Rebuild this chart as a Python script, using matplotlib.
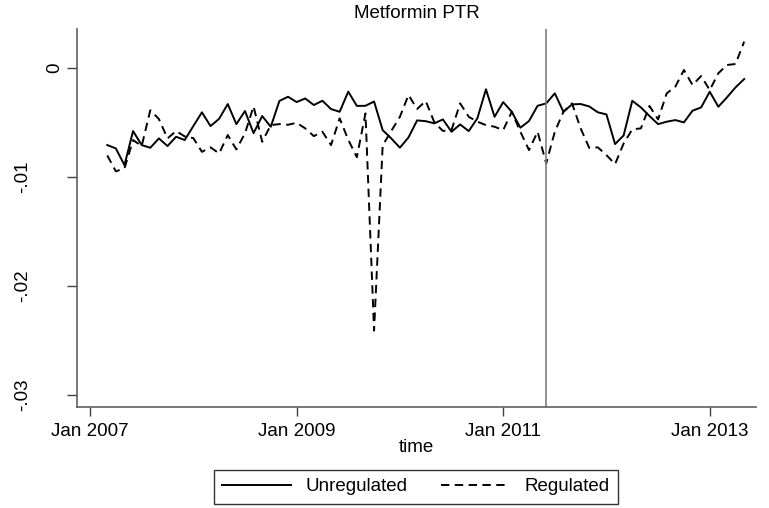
import numpy as np
import pandas as pd
import matplotlib
matplotlib.use("Agg")
import matplotlib.pyplot as plt

plt.rcParams['font.family'] = ['Liberation Sans', 'DejaVu Sans']

# monthly series, Mar 2007 - May 2013
months = pd.period_range('2007-03', '2013-05', freq='M')

unregulated = [
    -0.00709, -0.00740, -0.00893, -0.00581, -0.00709, -0.00734, -0.00648, -0.00718,
    -0.00633, -0.00663, -0.00535, -0.00409, -0.00535, -0.00468, -0.00333, -0.00517,
    -0.00397, -0.00600, -0.00443, -0.00541, -0.00305, -0.00266, -0.00315, -0.00282,
    -0.00342, -0.00303, -0.00379, -0.00404, -0.00220, -0.00350, -0.00349, -0.00310,
    -0.00572, -0.00648, -0.00733, -0.00639, -0.00483, -0.00490, -0.00510, -0.00474,
    -0.00587, -0.00520, -0.00581, -0.00464, -0.00198, -0.00450, -0.00315, -0.00404,
    -0.00550, -0.00489, -0.00349, -0.00327, -0.00235, -0.00404, -0.00336, -0.00333,
    -0.00355, -0.00409, -0.00428, -0.00700, -0.00620, -0.00303, -0.00364, -0.00443,
    -0.00517, -0.00495, -0.00480, -0.00501, -0.00394, -0.00364, -0.00220, -0.00358,
    -0.00272, -0.00180, -0.00104,
]

regulated = [
    -0.00804, -0.00950, -0.00923, -0.00663, -0.00718, -0.00390, -0.00470, -0.00648,
    -0.00580, -0.00630, -0.00645, -0.00771, -0.00730, -0.00786, -0.00617, -0.00749,
    -0.00602, -0.00354, -0.00679, -0.00526, -0.00517, -0.00523, -0.00505, -0.00556,
    -0.00627, -0.00587, -0.00709, -0.00464, -0.00660, -0.00820, -0.00419, -0.02410,
    -0.00712, -0.00580, -0.00450, -0.00250, -0.00378, -0.00305, -0.00500, -0.00580,
    -0.00570, -0.00327, -0.00450, -0.00495, -0.00526, -0.00541, -0.00572, -0.00404,
    -0.00587, -0.00755, -0.00587, -0.00877, -0.00587, -0.00404, -0.00327, -0.00556,
    -0.00735, -0.00730, -0.00801, -0.00884, -0.00694, -0.00565, -0.00556, -0.00351,
    -0.00474, -0.00235, -0.00174, -0.00021, -0.00159, -0.00076, -0.00205, -0.00051,
    0.00025, 0.00034, 0.00239,
]

xtick_labels = ['Jan 2007', 'Jan 2009', 'Jan 2011', 'Jan 2013']
ytick_vals = [0, -0.01, -0.02, -0.03]
ytick_labels = ['0', '-.01', '-.02', '-.03']
policy_month = pd.Period('2011-06', freq='M')

# month index counted from Jan 2007
x = np.array([(p.year - 2007) * 12 + p.month - 1 for p in months])
xticks = [(int(s[-4:]) - 2007) * 12 for s in xtick_labels]
xline = (policy_month.year - 2007) * 12 + policy_month.month - 1

fig = plt.figure(figsize=(7.69, 5.08), dpi=100)
ax = fig.add_axes([77.3 / 769, 1 - 406.7 / 508, 678.4 / 769, 377.4 / 508])

ax.plot(x, unregulated, color='black', lw=1.4, label='Unregulated')
ax.plot(x, regulated, color='black', lw=1.4, dashes=(4.3, 2.8), label='Regulated')
ax.axvline(xline, color='#808080', lw=1.2)

ax.set_xlim(-1.48, 77.34)
ax.set_ylim(-0.03107, 0.00352)

for s in ['top', 'right']:
    ax.spines[s].set_visible(False)
for s in ['left', 'bottom']:
    ax.spines[s].set_color('#606060')
    ax.spines[s].set_linewidth(1.2)

ax.set_xticks(xticks)
ax.set_xticklabels(xtick_labels, fontsize=13.5)
ax.tick_params(axis='x', length=6.5, width=1, color='#404040', pad=5)
ax.set_yticks(ytick_vals)
ax.set_yticklabels([])
ax.tick_params(axis='y', length=7, width=1, color='#404040')

trans = ax.get_yaxis_transform()
for v, lab in zip(ytick_vals, ytick_labels):
    xpos = -0.033 if lab == '0' else -0.080
    ax.text(xpos, v, lab, transform=trans, rotation=90, ha='center', va='center',
            fontsize=13.5)

fig.text(416.5 / 769, 1 - 448 / 508, 'time', ha='center', va='center', fontsize=13.5)
fig.text(416.5 / 769, 1 - 13 / 508, 'Metformin PTR', ha='center', va='center', fontsize=13.5)

leg = fig.legend(loc='center', bbox_to_anchor=(416 / 769, 1 - 486.5 / 508), ncol=2,
                 fontsize=13.5, frameon=True, fancybox=False, edgecolor='black',
                 handlelength=3.65, handletextpad=0.8, columnspacing=1.8,
                 borderpad=0.45, borderaxespad=0)
leg.get_frame().set_linewidth(1.0)

fig.savefig('out.png', dpi=100, facecolor='white')
